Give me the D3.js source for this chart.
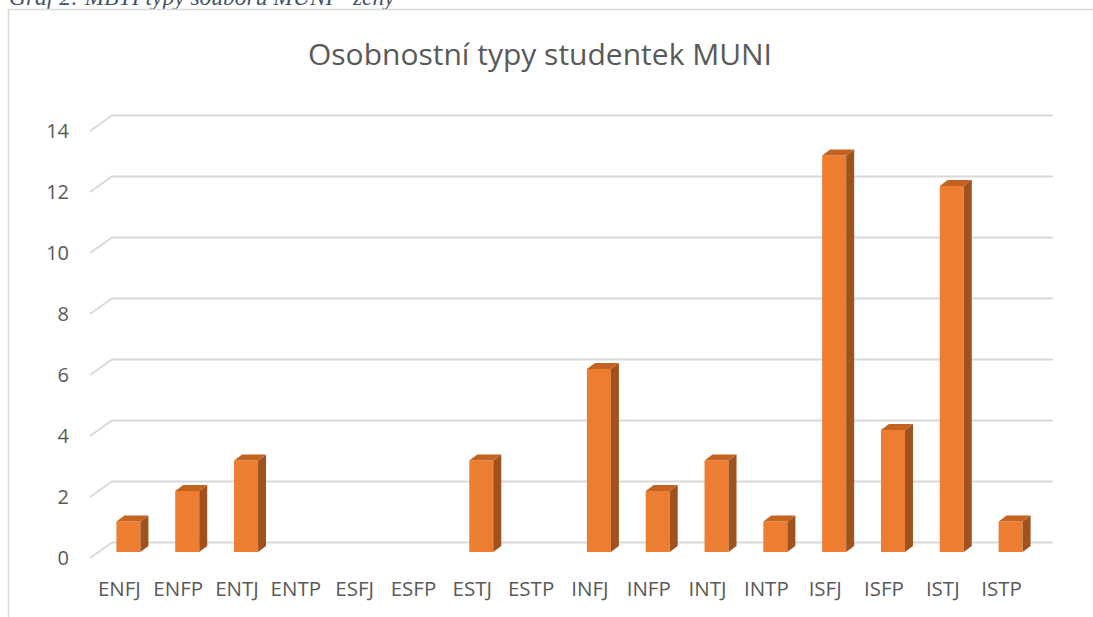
<!DOCTYPE html>
<html lang="cs">
<head>
  <meta charset="UTF-8">
  <title>Osobnostní typy studentek MUNI</title>
  <script src="https://d3js.org/d3.v7.min.js"></script>
  <style>
    body { margin: 0; background: #fff; }
    svg { display: block; }
  </style>
</head>
<body>
  <script>
    // data
    var categories = ["ENFJ", "ENFP", "ENTJ", "ENTP", "ESFJ", "ESFP", "ESTJ", "ESTP",
                      "INFJ", "INFP", "INTJ", "INTP", "ISFJ", "ISFP", "ISTJ", "ISTP"];
    var counts = [1, 2, 3, 0, 0, 0, 3, 0, 6, 2, 3, 1, 13, 4, 12, 1];
    var yTicks = [0, 2, 4, 6, 8, 10, 12, 14];

    var w = 1093, h = 617;
    // 3D floor depth offset (front edge -> back wall)
    var depthX = 22, depthY = -15.5;

    var svg = d3.select("body").append("svg")
      .attr("width", w)
      .attr("height", h);

    // caption above the chart (cut off at the top)
    svg.append("text")
      .attr("x", 9)
      .attr("y", 5)
      .attr("font-family", "Liberation Serif")
      .attr("font-style", "italic")
      .attr("font-size", 23.5)
      .attr("fill", "#44546a")
      .text("Graf 2: MBTI typy souboru MUNI - ženy");

    // chart area border (top + left visible)
    svg.append("path")
      .attr("d", "M8.5,617 L8.5,9.5 L1093,9.5")
      .attr("fill", "none")
      .attr("stroke", "#d9d9d9")
      .attr("stroke-width", 1.5);

    // title
    svg.append("text")
      .attr("x", 540)
      .attr("y", 65)
      .attr("text-anchor", "middle")
      .attr("font-family", "Open Sans")
      .attr("font-size", 30)
      .attr("fill", "#595959")
      .text("Osobnostní typy studentek MUNI");

    var x = d3.scaleBand()
      .domain(categories)
      .range([90, 1031]);

    var y = d3.scaleLinear()
      .domain([0, 14])
      .range([558, 131]);

    // gridlines: short diagonal on the floor side + line along back wall
    svg.append("g").selectAll("path")
      .data(yTicks)
      .enter()
      .append("path")
      .attr("d", function(d) {
        var yf = y(d);
        return "M90," + yf + " L" + (90 + depthX) + "," + (yf + depthY) + " L1053," + (yf + depthY);
      })
      .attr("fill", "none")
      .attr("stroke", "#d9d9d9")
      .attr("stroke-width", 2);

    // y labels
    svg.append("g").selectAll("text")
      .data(yTicks)
      .enter()
      .append("text")
      .attr("x", 69)
      .attr("y", function(d) { return y(d); })
      .attr("dy", "0.35em")
      .attr("text-anchor", "end")
      .attr("font-family", "Open Sans")
      .attr("font-size", 20)
      .attr("fill", "#595959")
      .text(function(d) { return d; });

    // x labels
    svg.append("g").selectAll("text")
      .data(categories)
      .enter()
      .append("text")
      .attr("x", function(d) { return x(d) + x.bandwidth() / 2; })
      .attr("y", 596)
      .attr("text-anchor", "middle")
      .attr("font-family", "Open Sans")
      .attr("font-size", 20.5)
      .attr("fill", "#595959")
      .text(function(d) { return d; });

    // 3D bars
    var barW = 24, sideX = 8, sideY = -6;
    var offX = 9, offY = -6; // bars sit part-way into the depth
    var bars = svg.append("g").selectAll("g")
      .data(categories.map(function(c, i) { return { cat: c, v: counts[i] }; })
        .filter(function(d) { return d.v > 0; }))
      .enter()
      .append("g");

    function geom(d) {
      var x0 = x(d.cat) + x.bandwidth() / 2 + offX - barW / 2;
      var x1 = x0 + barW;
      var top = y(d.v) + offY;
      var bottom = y(0) + offY;
      return { x0: x0, x1: x1, top: top, bottom: bottom };
    }

    bars.append("rect")
      .attr("x", function(d) { return geom(d).x0; })
      .attr("y", function(d) { return geom(d).top; })
      .attr("width", barW)
      .attr("height", function(d) { var g = geom(d); return g.bottom - g.top; })
      .attr("fill", "#ed7d31");

    bars.append("polygon")
      .attr("points", function(d) {
        var g = geom(d);
        return [[g.x1, g.top], [g.x1 + sideX, g.top + sideY],
                [g.x1 + sideX, g.bottom + sideY], [g.x1, g.bottom]].join(" ");
      })
      .attr("fill", "#a0521e");

    bars.append("polygon")
      .attr("points", function(d) {
        var g = geom(d);
        return [[g.x0, g.top], [g.x0 + sideX, g.top + sideY],
                [g.x1 + sideX, g.top + sideY], [g.x1, g.top]].join(" ");
      })
      .attr("fill", "#c4621f");
  </script>
</body>
</html>
